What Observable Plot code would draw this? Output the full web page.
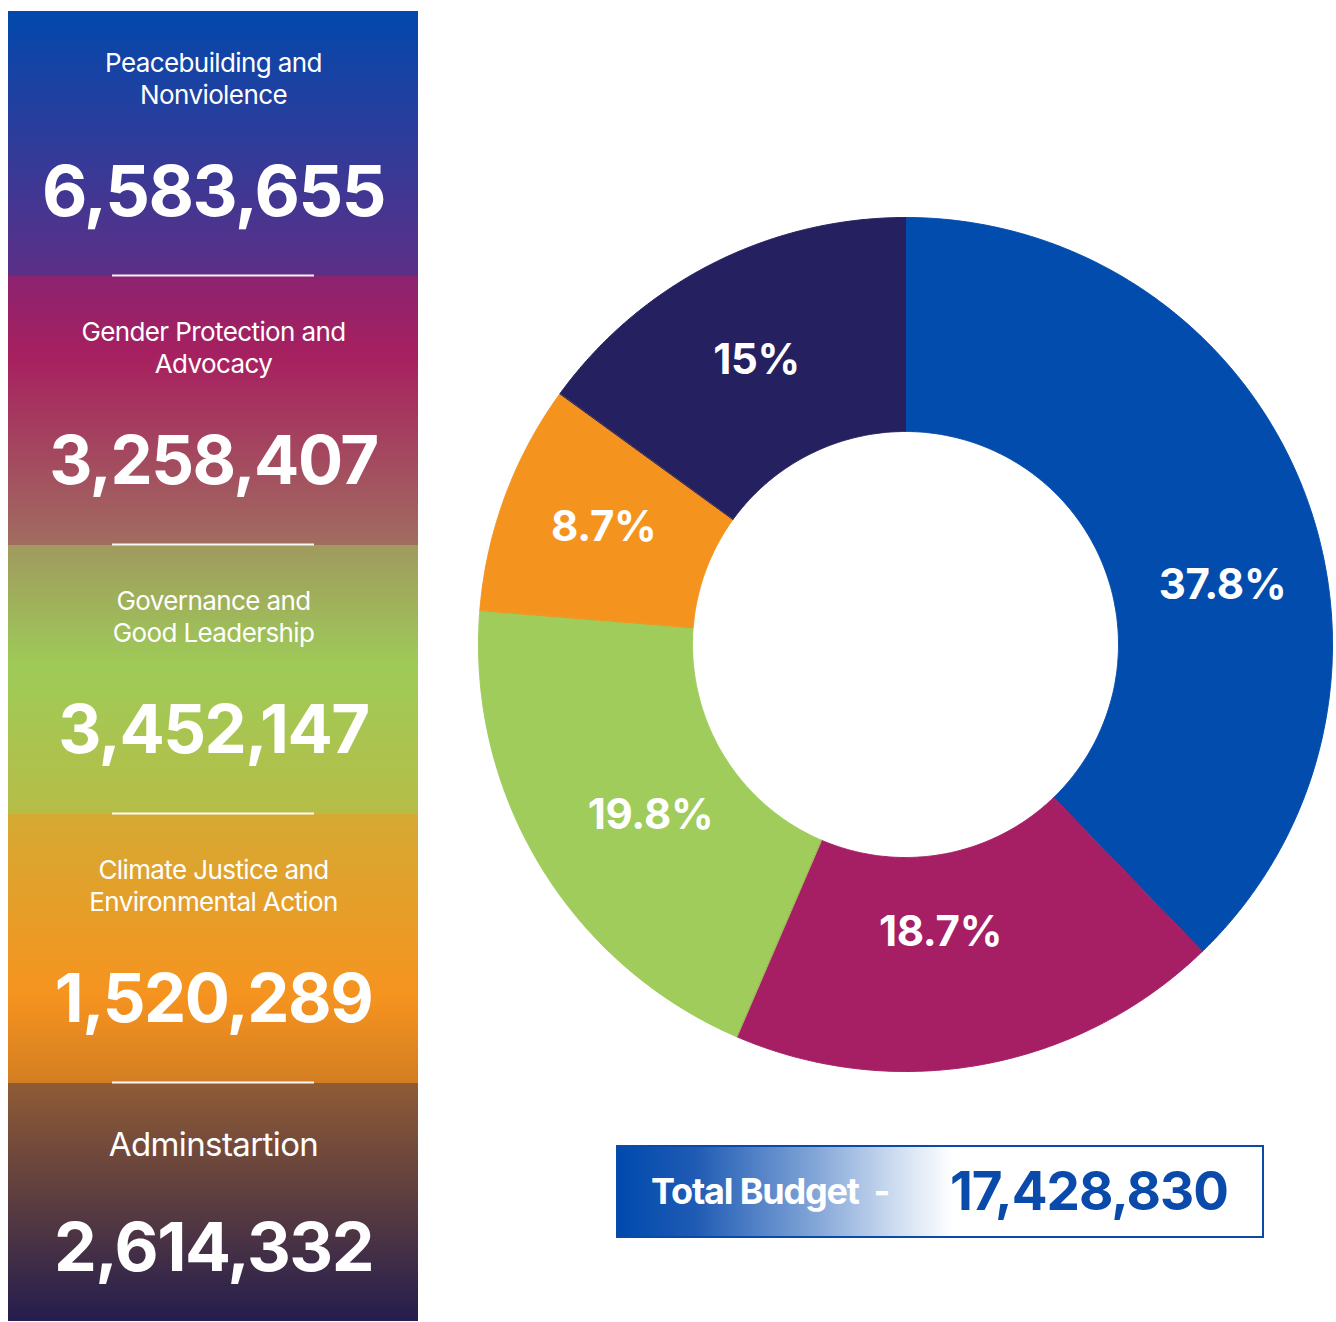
<!DOCTYPE html>
<html><head><meta charset="utf-8">
<script src="https://cdn.jsdelivr.net/npm/d3@7"></script>
<script src="https://cdn.jsdelivr.net/npm/@observablehq/plot@0.6"></script>
<style>
html,body{margin:0;padding:0;background:#fff;}
#root{position:relative;width:1336px;height:1322px;overflow:hidden;background:#fff;font-family:Inter,"Noto Sans",sans-serif;}
#left{position:absolute;left:0;top:0;}
#donut{position:absolute;left:430px;top:0;}
#total{position:absolute;left:616px;top:1145px;width:644px;height:89px;border:2px solid #0A4AAA;
  background:linear-gradient(to right,#004AAD 0%,#1F5BB4 12%,#7FA3D6 30%,#D3E0F2 44%,#ffffff 52%);}
#total .lbl{position:absolute;left:33px;top:0;height:89px;line-height:89px;font-size:36px;font-weight:700;color:#fff;letter-spacing:-1.2px;white-space:pre;}
#total .val{position:absolute;right:34px;top:0;height:89px;line-height:89px;font-size:53px;font-weight:700;color:#0A4AAA;letter-spacing:-1px;}
</style></head><body>
<div id="root"><div id="left"></div><div id="donut"></div>
<div id="total"><span class="lbl">Total Budget  -</span><span class="val"></span></div></div>
<script>
// ---- data ----
const categories = ["Peacebuilding and\nNonviolence", "Gender Protection and\nAdvocacy", "Governance and\nGood Leadership", "Climate Justice and\nEnvironmental Action", "Adminstartion"];
const values = [6583655, 3258407, 3452147, 1520289, 2614332];
const totalLabel = "Total Budget  -";

// ---- styles ----
const sliceColors = ["#024CAD", "#A61F65", "#9FCC5A", "#F5931F", "#25205F"];
const blockGradients = [
  [[0, "#0049AD"], [1, "#5D2F87"]],
  [[0, "#8C2370"], [0.3, "#A7205F"], [1, "#A16D5F"]],
  [[0, "#A09A5E"], [0.45, "#9ECB58"], [1, "#B6BD47"]],
  [[0, "#D5AA33"], [0.68, "#F6931F"], [1, "#D27E22"]],
  [[0, "#8F5B35"], [0.45, "#5A3C40"], [0.885, "#241D4E"], [1, "#241D4E"]]
];

const total = d3.sum(values);
const rows = categories.map((c, i) => ({category: c, value: values[i], i}));
const fmt = d3.format(",");
const pct = v => d3.format(".1f")(v * 100).replace(/\.0$/, "") + "%";

// ---- left panel ----
const ns = "http://www.w3.org/2000/svg";
const left = Plot.plot({
  width: 430, height: 1322,
  marginLeft: 8, marginRight: 12, marginTop: 11, marginBottom: 1,
  x: {domain: [0, 1], axis: null},
  y: {domain: categories, range: [7, 1352], padding: 0, axis: null},
  color: {type: "identity"},
  style: {fontFamily: "Inter, 'Noto Sans', sans-serif", background: "transparent"},
  marks: [
    Plot.barX(rows, {x1: 0, x2: 1, y: "category", fill: d => `url(#blk${d.i})`, clip: true}),
    Plot.ruleY(rows.filter(d => d.i > 0), {y: "category", dy: -135.5, x1: 0.2537, x2: 0.7463, stroke: "#fff", strokeWidth: 2, strokeOpacity: 0.95}),
    Plot.text(rows.filter(d => d.i < 4), {y: "category", text: "category", dy: -64, fill: "#fff", fontSize: 26, lineHeight: 1.23, fontWeight: 400, lineAnchor: "middle"}),
    Plot.text(rows.filter(d => d.i < 4), {y: "category", text: d => fmt(d.value), dy: 52, fill: "#fff", fontSize: d => d.i === 0 ? 70 : 67, fontWeight: 700, lineAnchor: "middle"}),
    Plot.text(rows.filter(d => d.i === 4), {y: "category", text: "category", dy: -73, fill: "#fff", fontSize: 33, fontWeight: 400, lineAnchor: "middle"}),
    Plot.text(rows.filter(d => d.i === 4), {y: "category", text: d => fmt(d.value), dy: 31, fill: "#fff", fontSize: 68, fontWeight: 700, lineAnchor: "middle"})
  ]
});
const defs = document.createElementNS(ns, "defs");
blockGradients.forEach((stops, i) => {
  const g = document.createElementNS(ns, "linearGradient");
  g.setAttribute("id", "blk" + i);
  g.setAttribute("x1", 0); g.setAttribute("y1", 0); g.setAttribute("x2", 0); g.setAttribute("y2", 1);
  stops.forEach(([o, c]) => {
    const s = document.createElementNS(ns, "stop");
    s.setAttribute("offset", o); s.setAttribute("stop-color", c);
    g.appendChild(s);
  });
  defs.appendChild(g);
});
left.insertBefore(defs, left.firstChild);
left.querySelectorAll("g[aria-label=text]").forEach((g, k) => {
  g.setAttribute("letter-spacing", (k === 1 || k === 3) ? "-1.5" : "-0.6");
});
document.getElementById("left").appendChild(left);

// ---- donut ----
const innerRatio = 213 / 427;
const arcs = d3.pie().sort(null).value(d => d.value).startAngle(0).endAngle(2 * Math.PI)(rows);
const poly = [];
arcs.forEach(a => {
  const n = Math.max(2, Math.ceil((a.endAngle - a.startAngle) / 0.005));
  for (let k = 0; k <= n; k++) {
    const t = a.startAngle + (a.endAngle - a.startAngle) * k / n;
    poly.push({i: a.data.i, x: Math.sin(t), y: Math.cos(t)});
  }
  for (let k = n; k >= 0; k--) {
    const t = a.startAngle + (a.endAngle - a.startAngle) * k / n;
    poly.push({i: a.data.i, x: innerRatio * Math.sin(t), y: innerRatio * Math.cos(t)});
  }
});
// label placement tweaks (layout only)
const labelAngleNudge = [0.2, 0.06, -0.049, 0.016, -0.012];
const labelRadius = [0.755, 0.679, 0.719, 0.758, 0.751];
const labels = arcs.map(a => {
  const t = (a.startAngle + a.endAngle) / 2 + labelAngleNudge[a.data.i];
  const r = labelRadius[a.data.i];
  return {i: a.data.i, x: r * Math.sin(t), y: r * Math.cos(t), text: pct(a.data.value / total)};
});
const donut = Plot.plot({
  width: 906, height: 1322,
  margin: 0,
  x: {domain: [-1, 1], range: [48, 902], axis: null},
  y: {domain: [-1, 1], range: [1071, 217], axis: null},
  color: {type: "identity"},
  style: {fontFamily: "Inter, 'Noto Sans', sans-serif", background: "transparent"},
  marks: [
    Plot.line(poly, {x: "x", y: "y", z: "i", fill: d => sliceColors[d.i], stroke: d => sliceColors[d.i], strokeWidth: 1, curve: "linear-closed"}),
    Plot.text(labels, {x: "x", y: "y", text: "text", fill: "#fff", fontSize: 42, fontWeight: 700})
  ]
});
donut.querySelectorAll("text").forEach(t => t.setAttribute("letter-spacing", "-0.3"));
document.getElementById("donut").appendChild(donut);

document.querySelector("#total .lbl").textContent = totalLabel;
document.querySelector("#total .val").textContent = fmt(total);
</script>
</body></html>
